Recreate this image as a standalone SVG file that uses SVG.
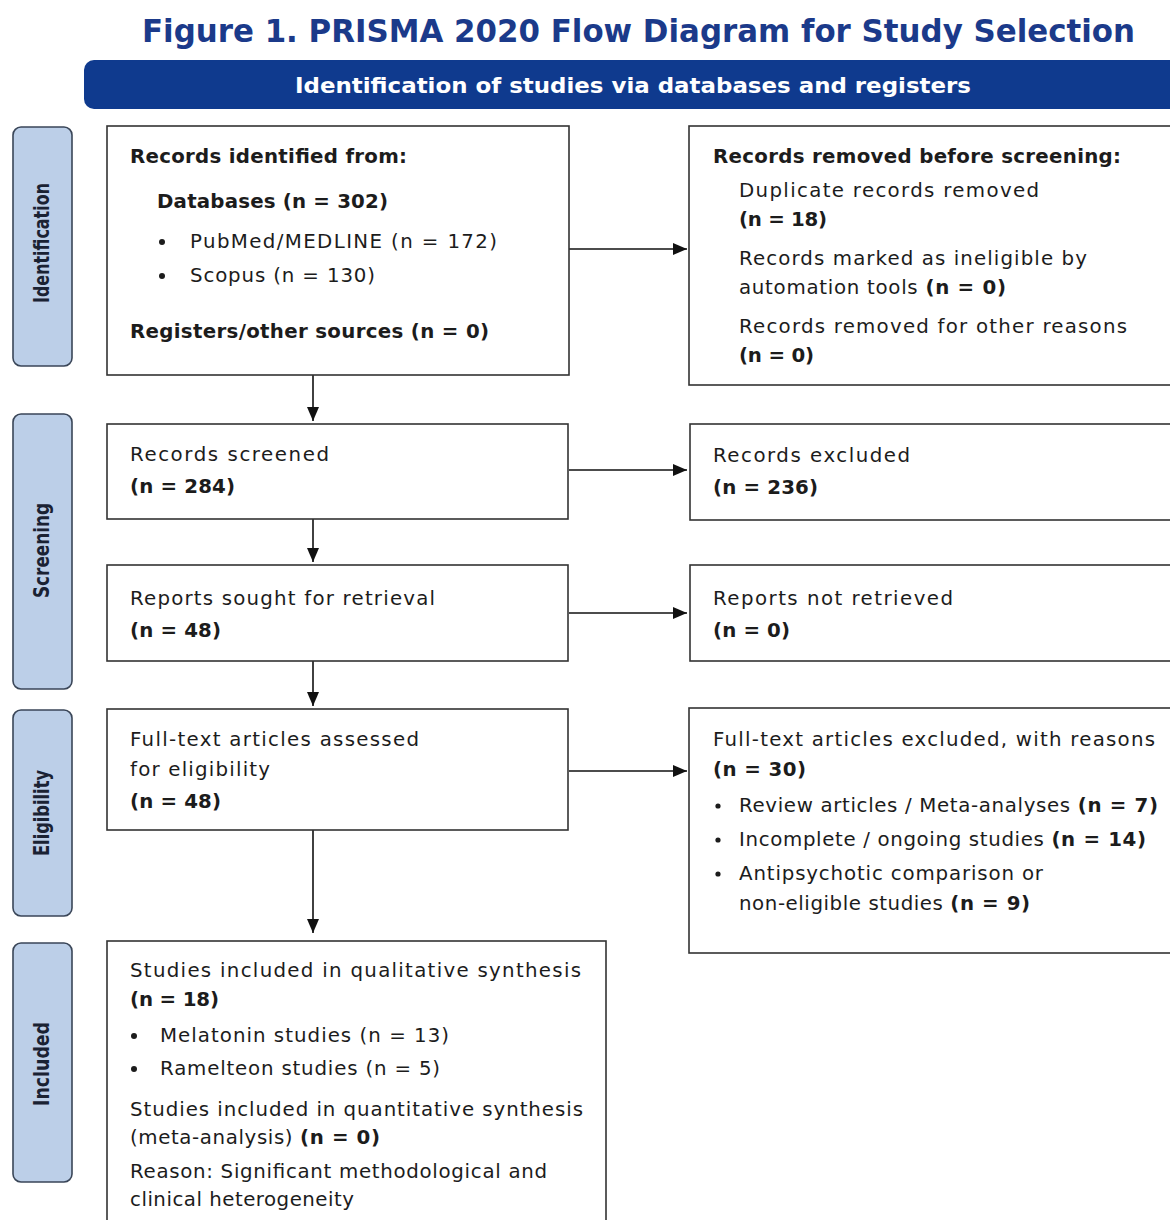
<svg xmlns="http://www.w3.org/2000/svg" width="1170" height="1220" viewBox="0 0 1170 1220">
<style>
  text { font-family: "DejaVu Sans", "Liberation Sans", Arial, sans-serif; fill: #1c1c1c; }
  .t { font-size: 19.8px; }
  .b { font-weight: bold; }
  .box { fill: #ffffff; stroke: #333333; stroke-width: 1.6; }
  .side { fill: #bccfe8; stroke: #3a4658; stroke-width: 1.6; }
  .sidetxt { font-size: 22px; font-weight: bold; fill: #1a2233; }
  .conn { stroke: #111111; stroke-width: 1.6; fill: none; }
  .dot { fill: #1c1c1c; }
</style>
<defs>
  <marker id="ahv" viewBox="0 0 14 12" refX="14" refY="6" markerWidth="14" markerHeight="12" markerUnits="userSpaceOnUse" orient="auto">
    <path d="M0,0 L14,6 L0,12 z" fill="#111111"/>
  </marker>
</defs>
<rect x="0" y="0" width="1170" height="1220" fill="#ffffff"/>

<g id="title">
  <text x="142" y="42" font-size="32" font-weight="bold" style="fill:#1b3a8a" textLength="993" lengthAdjust="spacingAndGlyphs">Figure 1. PRISMA 2020 Flow Diagram for Study Selection</text>
</g>

<g id="header">
  <rect x="84" y="60" width="1110" height="49" rx="10" fill="#0f3a8e"/>
  <text x="295" y="93" font-size="21" font-weight="bold" style="fill:#ffffff" textLength="676" lengthAdjust="spacingAndGlyphs">Identification of studies via databases and registers</text>
</g>

<g id="side-identification">
  <rect class="side" x="13" y="127" width="59" height="239" rx="8"/>
  <text class="sidetxt" transform="translate(49,303) rotate(-90)" textLength="120" lengthAdjust="spacingAndGlyphs">Identification</text>
</g>
<g id="side-screening">
  <rect class="side" x="13" y="414" width="59" height="275" rx="8"/>
  <text class="sidetxt" transform="translate(49,598) rotate(-90)" textLength="95" lengthAdjust="spacingAndGlyphs">Screening</text>
</g>
<g id="side-eligibility">
  <rect class="side" x="13" y="710" width="59" height="206" rx="8"/>
  <text class="sidetxt" transform="translate(49,856) rotate(-90)" textLength="86" lengthAdjust="spacingAndGlyphs">Eligibility</text>
</g>
<g id="side-included">
  <rect class="side" x="13" y="943" width="59" height="239" rx="8"/>
  <text class="sidetxt" transform="translate(49,1106) rotate(-90)" textLength="84" lengthAdjust="spacingAndGlyphs">Included</text>
</g>

<g id="connectors">
  <line class="conn" x1="313" y1="375" x2="313" y2="421" marker-end="url(#ahv)"/>
  <line class="conn" x1="313" y1="519" x2="313" y2="562" marker-end="url(#ahv)"/>
  <line class="conn" x1="313" y1="661" x2="313" y2="706" marker-end="url(#ahv)"/>
  <line class="conn" x1="313" y1="830" x2="313" y2="933" marker-end="url(#ahv)"/>
  <line class="conn" x1="569" y1="249" x2="687" y2="249" marker-end="url(#ahv)"/>
  <line class="conn" x1="569" y1="470" x2="687" y2="470" marker-end="url(#ahv)"/>
  <line class="conn" x1="569" y1="613" x2="687" y2="613" marker-end="url(#ahv)"/>
  <line class="conn" x1="569" y1="771" x2="687" y2="771" marker-end="url(#ahv)"/>
</g>

<g id="records-identified">
  <rect class="box" x="107" y="126" width="462" height="249"/>
  <text class="t b" x="130" y="163" textLength="277">Records identified from:</text>
  <text class="t b" x="157" y="208" textLength="231">Databases (n = 302)</text>
  <circle class="dot" cx="162" cy="242" r="3"/>
  <text class="t" x="190" y="248" textLength="307">PubMed/MEDLINE (n = 172)</text>
  <circle class="dot" cx="162" cy="276" r="3"/>
  <text class="t" x="190" y="282" textLength="185">Scopus (n = 130)</text>
  <text class="t b" x="130" y="338" textLength="359">Registers/other sources (n = 0)</text>
</g>

<g id="records-removed">
  <rect class="box" x="689" y="126" width="500" height="259"/>
  <text class="t b" x="713" y="163" textLength="408">Records removed before screening:</text>
  <text class="t" x="739" y="197" textLength="300">Duplicate records removed</text>
  <text class="t b" x="739" y="226" textLength="88">(n = 18)</text>
  <text class="t" x="739" y="265" textLength="348">Records marked as ineligible by</text>
  <text class="t" x="739" y="294" textLength="267">automation tools <tspan class="b">(n = 0)</tspan></text>
  <text class="t" x="739" y="333" textLength="388">Records removed for other reasons</text>
  <text class="t b" x="739" y="362" textLength="75">(n = 0)</text>
</g>

<g id="records-screened">
  <rect class="box" x="107" y="424" width="461" height="95"/>
  <text class="t" x="130" y="461" textLength="199">Records screened</text>
  <text class="t b" x="130" y="493" textLength="105">(n = 284)</text>
</g>

<g id="records-excluded">
  <rect class="box" x="690" y="424" width="500" height="96"/>
  <text class="t" x="713" y="462" textLength="197">Records excluded</text>
  <text class="t b" x="713" y="494" textLength="105">(n = 236)</text>
</g>

<g id="reports-sought">
  <rect class="box" x="107" y="565" width="461" height="96"/>
  <text class="t" x="130" y="605" textLength="305">Reports sought for retrieval</text>
  <text class="t b" x="130" y="637" textLength="91">(n = 48)</text>
</g>

<g id="reports-not-retrieved">
  <rect class="box" x="690" y="565" width="500" height="96"/>
  <text class="t" x="713" y="605" textLength="240">Reports not retrieved</text>
  <text class="t b" x="713" y="637" textLength="77">(n = 0)</text>
</g>

<g id="full-text-assessed">
  <rect class="box" x="107" y="709" width="461" height="121"/>
  <text class="t" x="130" y="746" textLength="289">Full-text articles assessed</text>
  <text class="t" x="130" y="776" textLength="140">for eligibility</text>
  <text class="t b" x="130" y="808" textLength="91">(n = 48)</text>
</g>

<g id="full-text-excluded">
  <rect class="box" x="689" y="708" width="500" height="245"/>
  <text class="t" x="713" y="746" textLength="442">Full-text articles excluded, with reasons</text>
  <text class="t b" x="713" y="776" textLength="93">(n = 30)</text>
  <circle class="dot" cx="718" cy="806" r="2.6"/>
  <text class="t" x="739" y="812" textLength="419">Review articles / Meta-analyses <tspan class="b">(n = 7)</tspan></text>
  <circle class="dot" cx="718" cy="840" r="2.6"/>
  <text class="t" x="739" y="846" textLength="407">Incomplete / ongoing studies <tspan class="b">(n = 14)</tspan></text>
  <circle class="dot" cx="718" cy="874" r="2.6"/>
  <text class="t" x="739" y="880" textLength="304">Antipsychotic comparison or</text>
  <text class="t" x="739" y="910" textLength="291">non-eligible studies <tspan class="b">(n = 9)</tspan></text>
</g>

<g id="studies-included">
  <rect class="box" x="107" y="941" width="499" height="300"/>
  <text class="t" x="130" y="977" textLength="451">Studies included in qualitative synthesis</text>
  <text class="t b" x="130" y="1006" textLength="89">(n = 18)</text>
  <circle class="dot" cx="134" cy="1036" r="3"/>
  <text class="t" x="160" y="1042" textLength="289">Melatonin studies (n = 13)</text>
  <circle class="dot" cx="134" cy="1069" r="3"/>
  <text class="t" x="160" y="1075" textLength="280">Ramelteon studies (n = 5)</text>
  <text class="t" x="130" y="1116" textLength="453">Studies included in quantitative synthesis</text>
  <text class="t" x="130" y="1144" textLength="250">(meta-analysis) <tspan class="b">(n = 0)</tspan></text>
  <text class="t" x="130" y="1178" textLength="417">Reason: Significant methodological and</text>
  <text class="t" x="130" y="1206" textLength="224">clinical heterogeneity</text>
</g>
</svg>
